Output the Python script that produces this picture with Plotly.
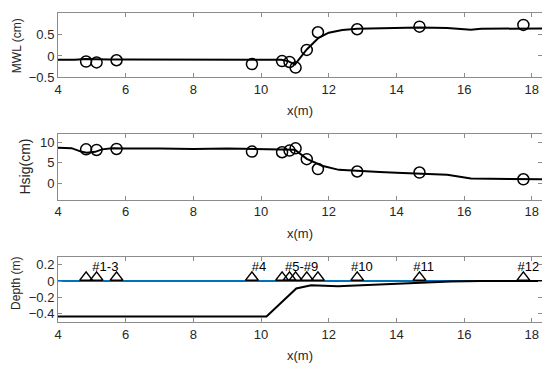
import plotly.graph_objects as go

# Gauge observations
gauge_x = [4.83, 5.14, 5.73, 9.73, 10.62, 10.84, 11.02, 11.35, 11.68, 12.84, 14.68, 17.75]
mwl_obs = [-0.13, -0.15, -0.10, -0.19, -0.12, -0.14, -0.27, 0.14, 0.55, 0.62, 0.68, 0.72]
hsig_obs = [8.3, 8.15, 8.4, 7.75, 7.6, 8.0, 8.55, 5.9, 3.5, 2.9, 2.65, 1.0]

# Model MWL
mwl_x = [4.0, 4.5, 4.8, 5.1, 5.5, 6.0, 8.0, 10.0, 10.6, 10.8, 11.0, 11.35, 11.7, 12.0, 12.4, 12.84, 13.5, 14.68, 15.5, 16.2, 16.5, 17.0, 17.75, 18.3]
mwl_mod = [-0.09, -0.09, -0.07, -0.08, -0.08, -0.08, -0.08, -0.08, -0.09, -0.12, -0.2, 0.15, 0.42, 0.54, 0.6, 0.63, 0.64, 0.66, 0.65, 0.61, 0.63, 0.63, 0.64, 0.64]

# Model Hsig
hsig_x = [4.0, 4.4, 4.7, 4.85, 5.1, 5.3, 5.6, 6.0, 7.0, 8.0, 9.0, 10.0, 10.5, 10.8, 11.0, 11.35, 11.8, 12.3, 12.84, 13.5, 14.0, 14.68, 15.5, 16.2, 17.0, 17.75, 18.3]
hsig_mod = [8.7, 8.6, 7.7, 7.5, 7.7, 8.3, 8.6, 8.5, 8.5, 8.4, 8.5, 8.4, 8.4, 8.3, 8.2, 6.0, 4.3, 3.3, 3.0, 2.8, 2.6, 2.4, 2.1, 1.2, 1.1, 1.0, 1.0]

# Bathymetry
bed_x = [4.0, 10.16, 11.04, 11.48, 12.27, 13.3, 14.33, 15.6, 16.5, 18.3]
bed_z = [-0.433, -0.433, -0.09, -0.05, -0.064, -0.045, -0.03, -0.005, 0.0, 0.0]
swl_x = [4.0, 18.3]
swl_z = [0.0, 0.0]

gauge_labels = ["#1-3", "#4", "#5-#9", "#10", "#11", "#12"]
label_x = [5.4, 9.94, 11.2, 12.98, 14.8, 17.9]
label_y = [0.16, 0.16, 0.16, 0.16, 0.16, 0.16]

x_ticks = [4, 6, 8, 10, 12, 14, 16, 18]

fig = go.Figure()
black = "#000000"
fig.add_trace(go.Scatter(x=mwl_x, y=mwl_mod, mode="lines", line=dict(color=black, width=2), xaxis="x", yaxis="y", showlegend=False))
fig.add_trace(go.Scatter(x=gauge_x, y=mwl_obs, mode="markers", marker=dict(symbol="circle-open", size=11, color=black, line=dict(width=1.5)), xaxis="x", yaxis="y", showlegend=False))
fig.add_trace(go.Scatter(x=hsig_x, y=hsig_mod, mode="lines", line=dict(color=black, width=2), xaxis="x2", yaxis="y2", showlegend=False))
fig.add_trace(go.Scatter(x=gauge_x, y=hsig_obs, mode="markers", marker=dict(symbol="circle-open", size=11, color=black, line=dict(width=1.5)), xaxis="x2", yaxis="y2", showlegend=False))
fig.add_trace(go.Scatter(x=swl_x, y=swl_z, mode="lines", line=dict(color="#0072BD", width=2), xaxis="x3", yaxis="y3", showlegend=False))
fig.add_trace(go.Scatter(x=bed_x, y=bed_z, mode="lines", line=dict(color=black, width=2), xaxis="x3", yaxis="y3", showlegend=False))
fig.add_trace(go.Scatter(x=gauge_x, y=[0.045] * len(gauge_x), mode="markers", marker=dict(symbol="triangle-up-open", size=11, color=black, line=dict(width=1.5)), xaxis="x3", yaxis="y3", showlegend=False))
fig.add_trace(go.Scatter(x=label_x, y=label_y, mode="text", text=gauge_labels, textfont=dict(size=13, color=black, family="Liberation Sans, Arial"), xaxis="x3", yaxis="y3", showlegend=False))

# The page body has an 8px margin, so the figure is drawn 8px smaller
OFF = 8
W = 550 - OFF
H = 378.0 - OFF
def dom(top, bot):
    return [1 - (bot - OFF) / H, 1 - (top - OFF) / H]

axcol = "#8c8c8c"
tickfont = dict(size=13, color="#262626", family="Liberation Sans, Arial")
common_x = dict(range=[4, 18.3], tickvals=x_ticks, ticks="inside", ticklen=4, tickcolor=axcol,
                showline=True, linecolor=axcol, linewidth=1, mirror="ticks", showgrid=False,
                zeroline=False, tickfont=tickfont, domain=[0, 1])
common_y = dict(ticks="inside", ticklen=4, tickcolor=axcol, showline=True, linecolor=axcol,
                linewidth=1, mirror="ticks", showgrid=False, zeroline=False, tickfont=tickfont)

fig.update_layout(
    width=W, height=H,
    margin=dict(l=58 - OFF, r=550 - 542, t=0, b=0),
    plot_bgcolor="white", paper_bgcolor="white",
    xaxis=dict(common_x, anchor="y"),
    yaxis=dict(common_y, range=[-0.5, 1], tickvals=[-0.5, 0, 0.5, 1], domain=dom(13, 79), anchor="x"),
    xaxis2=dict(common_x, anchor="y2"),
    yaxis2=dict(common_y, range=[-4, 12], tickvals=[0, 5, 10], domain=dom(137, 204), anchor="x2"),
    xaxis3=dict(common_x, anchor="y3"),
    yaxis3=dict(common_y, range=[-0.5, 0.3], tickvals=[-0.4, -0.2, 0, 0.2], domain=dom(262, 329), anchor="x3"),
)

titlefont = dict(size=13, color="#262626", family="Liberation Sans, Arial")
anns = []
for yc in [113, 238, 363]:
    anns.append(dict(text="x(m)", x=0.5, y=1 - (yc - OFF) / H, xref="paper", yref="paper", showarrow=False,
                     xanchor="center", yanchor="middle", font=titlefont))
for txt, xc, yc, sz in [("MWL (cm)", 17, 47, 12), ("Hsig(cm)", 25, 170, 14), ("Depth (m)", 16, 290, 12)]:
    anns.append(dict(text=txt, x=0, xshift=xc - 58, y=1 - (yc - OFF) / H, xref="paper", yref="paper", showarrow=False,
                     xanchor="center", yanchor="middle", textangle=-90,
                     font=dict(size=sz, color="#262626", family="Liberation Sans, Arial")))
fig.update_layout(annotations=anns)

fig.write_html("out.html")
